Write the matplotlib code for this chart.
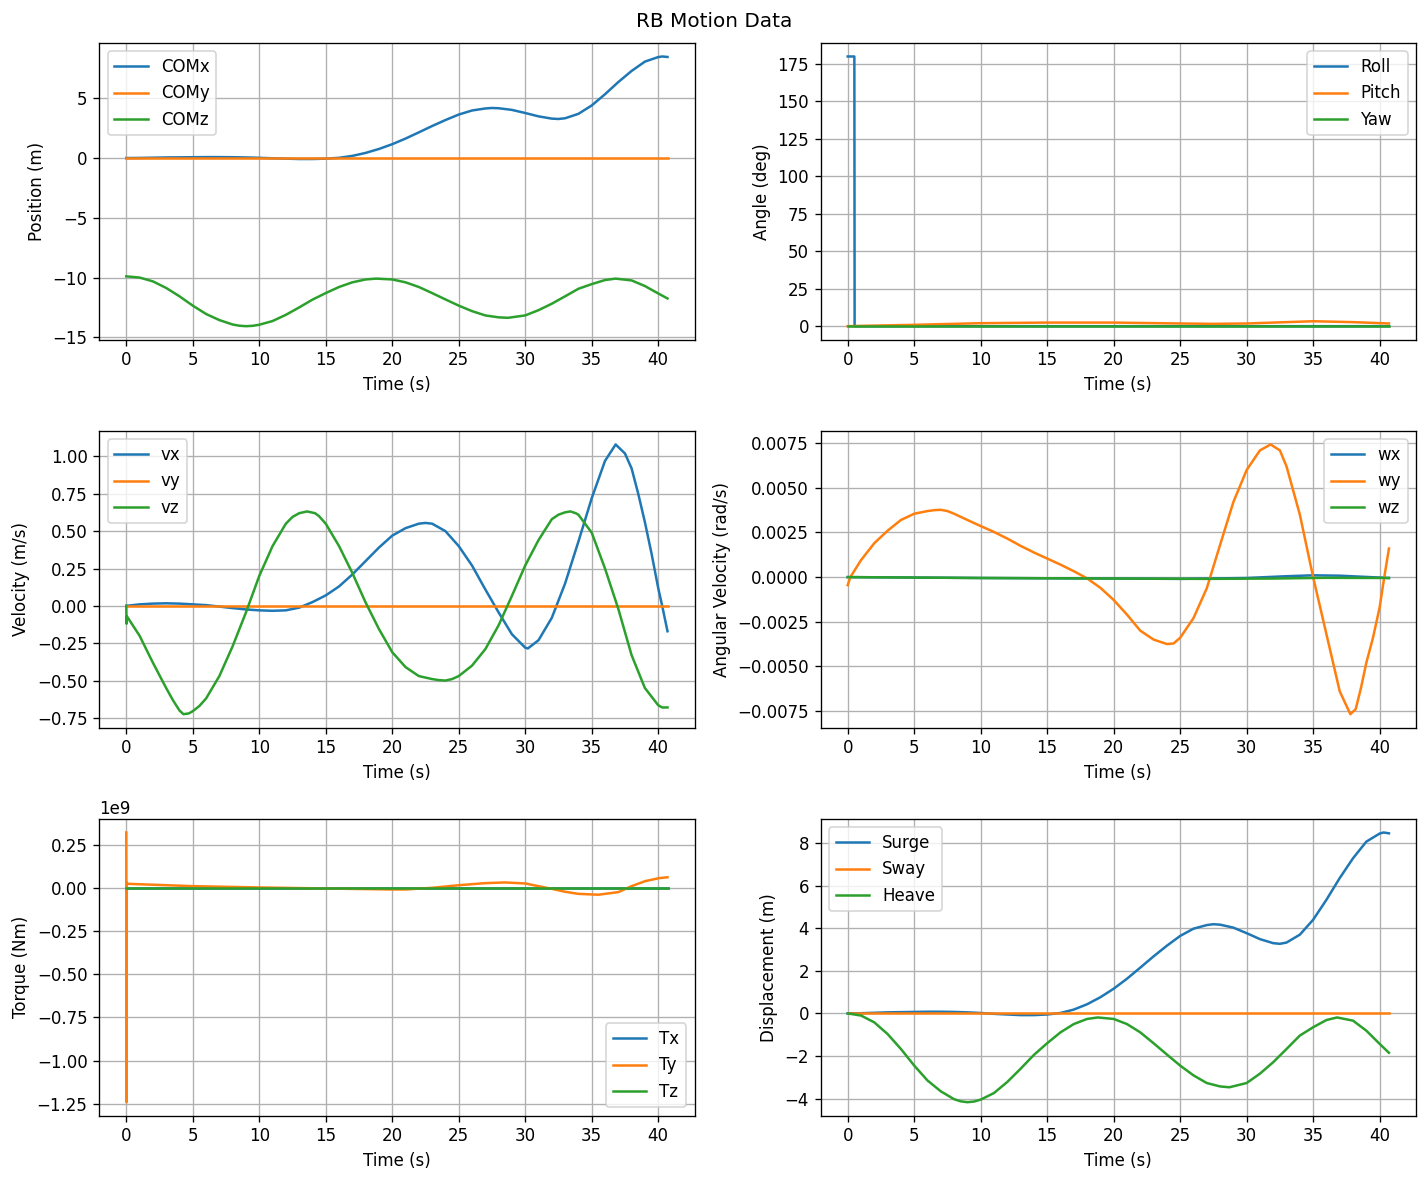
import numpy as np
import matplotlib
matplotlib.use("Agg")
import matplotlib.pyplot as plt

# --- data ---
# surge / COMx (m)
t_surge = [0, 1, 2, 3, 4, 5, 6, 7, 8, 9, 10, 11, 12, 13, 14, 15, 16, 17, 18, 19, 20,
           21, 22, 23, 24, 25, 26, 27, 27.5, 28, 29, 30, 31, 32, 32.5, 33, 34, 35, 36,
           37, 38, 39, 40, 40.3, 40.7]
surge = [0, 0.01, 0.03, 0.05, 0.06, 0.07, 0.08, 0.08, 0.07, 0.05, 0.02, -0.02, -0.05,
         -0.08, -0.08, -0.05, 0.02, 0.18, 0.43, 0.76, 1.16, 1.63, 2.15, 2.68, 3.18, 3.64,
         3.98, 4.15, 4.19, 4.17, 4.03, 3.77, 3.49, 3.3, 3.27, 3.33, 3.7, 4.4, 5.34, 6.36,
         7.29, 8.07, 8.45, 8.5, 8.46]

# heave (m); COMz = z0 + heave
t_heave = [0, 1, 2, 3, 4, 5, 6, 7, 8, 8.5, 9, 9.5, 10, 11, 12, 13, 14, 15, 16, 17, 18,
           18.8, 20, 21, 22, 23, 24, 25, 26, 27, 28, 28.7, 30, 31, 32, 33, 34, 35, 36,
           36.8, 38, 39, 40, 40.7]
heave = [0, -0.1, -0.42, -0.97, -1.67, -2.45, -3.15, -3.66, -4.03, -4.13, -4.17, -4.14,
         -4.05, -3.74, -3.22, -2.6, -1.95, -1.4, -0.89, -0.5, -0.26, -0.19, -0.26, -0.5,
         -0.89, -1.4, -1.93, -2.45, -2.91, -3.27, -3.43, -3.47, -3.27, -2.83, -2.29,
         -1.67, -1.04, -0.65, -0.31, -0.19, -0.34, -0.81, -1.43, -1.85]
com_z0 = -9.9

t_flat = [0, 40.7]
flat = [0, 0]

# roll / pitch / yaw (deg)
t_roll = [0, 0.5, 0.52, 40.7]
roll = [180, 180, 0, 0]
t_pitch = [0, 5, 10, 15, 20, 25, 27.5, 30, 33, 35, 38, 40.7]
pitch = [0, 0.9, 2.0, 2.4, 2.4, 1.8, 1.55, 1.8, 2.7, 3.3, 2.7, 1.8]

# linear velocity (m/s)
t_vx = [0, 1, 2, 3, 4, 5, 6, 7, 8, 9, 10, 11, 12, 13, 14, 15, 16, 17, 18, 19, 20, 21,
        22, 22.5, 23, 24, 25, 26, 27, 28, 29, 30, 30.2, 31, 32, 33, 34, 35, 36, 36.8,
        37.5, 38, 38.5, 39, 39.5, 40, 40.3, 40.7]
vx = [0, 0.01, 0.015, 0.017, 0.015, 0.01, 0.005, -0.005, -0.015, -0.024, -0.03, -0.033,
      -0.03, -0.012, 0.025, 0.07, 0.13, 0.21, 0.3, 0.39, 0.47, 0.52, 0.55, 0.555, 0.55,
      0.5, 0.4, 0.27, 0.11, -0.044, -0.19, -0.28, -0.285, -0.23, -0.08, 0.15, 0.43, 0.72,
      0.97, 1.08, 1.02, 0.92, 0.75, 0.56, 0.35, 0.12, 0.0, -0.17]
t_vz = [0, 0.02, 0.05, 1, 2, 3, 3.5, 4, 4.3, 4.7, 5, 5.5, 6, 7, 8, 9, 10, 11, 12, 12.5,
        13, 13.6, 14.2, 14.5, 15, 16, 17, 18, 19, 20, 21, 22, 23, 23.5, 24, 24.5, 25, 26,
        27, 28, 29, 30, 31, 32, 32.5, 33, 33.4, 33.8, 34, 35, 36, 37, 38, 39, 40, 40.3,
        40.7]
vz = [0, -0.12, -0.07, -0.2, -0.38, -0.55, -0.63, -0.7, -0.725, -0.72, -0.705, -0.67,
      -0.62, -0.47, -0.27, -0.044, 0.2, 0.4, 0.55, 0.595, 0.62, 0.632, 0.62, 0.6, 0.55,
      0.4, 0.22, 0.022, -0.155, -0.31, -0.41, -0.47, -0.49, -0.497, -0.5, -0.49, -0.47,
      -0.4, -0.29, -0.13, 0.067, 0.27, 0.44, 0.58, 0.61, 0.626, 0.632, 0.62, 0.61, 0.49,
      0.25, -0.02, -0.33, -0.55, -0.665, -0.68, -0.68]

# angular velocity (rad/s)
t_wy = [0, 0.2, 1, 2, 3, 4, 5, 6, 6.5, 7, 7.5, 8, 9, 10, 11, 12, 13, 14, 15, 16, 17, 18,
        19, 20, 21, 22, 23, 24, 24.5, 25, 26, 27, 28, 29, 30, 31, 31.8, 32.5, 33, 34, 35,
        36, 37, 37.8, 38.2, 38.6, 39, 39.5, 40, 40.35, 40.7]
wy = [-0.00045, 0.0, 0.00095, 0.0019, 0.0026, 0.0032, 0.00355, 0.0037, 0.00375, 0.00377,
      0.0037, 0.00355, 0.0032, 0.00286, 0.00253, 0.00216, 0.00175, 0.00138, 0.00104,
      0.0007, 0.00033, -0.00007, -0.0006, -0.00128, -0.0021, -0.003, -0.0035, -0.00375,
      -0.00372, -0.0034, -0.0023, -0.00063, 0.0018, 0.0042, 0.006, 0.0071, 0.00743,
      0.0071, 0.0062, 0.0035, 0.0, -0.0032, -0.0064, -0.00768, -0.0074, -0.0062,
      -0.0048, -0.0034, -0.0017, 0.0, 0.0016]
t_wx = [0, 10, 20, 25, 30, 33, 35, 37, 40.7]
wx = [0, -0.00005, -0.00008, -0.0001, -0.00005, 0.00005, 0.0001, 0.00008, -0.00005]
t_wz = [0, 10, 20, 27, 32, 36, 40.7]
wz = [0, -0.00005, -0.00008, -0.0001, -0.00008, -0.00004, -0.00005]

# torque, in units of 1e9 Nm
t_ty = [0, 0.02, 0.04, 0.1, 5, 10, 15, 20, 21, 23, 25, 27, 28.5, 30, 32, 33, 34, 35.5,
        37, 38, 39, 40, 40.7]
ty_g = [0.32, -1.24, 0.03, 0.023, 0.0096, 0.002, -0.004, -0.0096, -0.0096, 0.0, 0.015,
        0.027, 0.031, 0.025, -0.006, -0.023, -0.035, -0.04, -0.025, 0.0096, 0.038, 0.055,
        0.061]

fig, axs = plt.subplots(3, 2, figsize=(12, 10), dpi=120)
fig.suptitle('RB Motion Data')

ax = axs[0, 0]
ax.plot(t_surge, surge, label='COMx')
ax.plot(t_flat, flat, label='COMy')
ax.plot(t_heave, com_z0 + np.array(heave), label='COMz')
ax.set_xlabel('Time (s)')
ax.set_ylabel('Position (m)')
ax.legend(loc='upper left')
ax.grid(True)

ax = axs[0, 1]
ax.plot(t_roll, roll, label='Roll')
ax.plot(t_pitch, pitch, label='Pitch')
ax.plot(t_flat, flat, label='Yaw')
ax.set_xlabel('Time (s)')
ax.set_ylabel('Angle (deg)')
ax.legend(loc='upper right')
ax.grid(True)

ax = axs[1, 0]
ax.plot(t_vx, vx, label='vx')
ax.plot(t_flat, flat, label='vy')
ax.plot(t_vz, vz, label='vz')
ax.set_xlabel('Time (s)')
ax.set_ylabel('Velocity (m/s)')
ax.legend(loc='upper left')
ax.grid(True)

ax = axs[1, 1]
ax.plot(t_wx, wx, label='wx')
ax.plot(t_wy, wy, label='wy')
ax.plot(t_wz, wz, label='wz')
ax.set_xlabel('Time (s)')
ax.set_ylabel('Angular Velocity (rad/s)')
ax.legend(loc='upper right')
ax.grid(True)

ax = axs[2, 0]
ax.plot(t_flat, flat, label='Tx')
ax.plot(t_ty, np.array(ty_g) * 1e9, label='Ty')
ax.plot(t_flat, flat, label='Tz')
ax.set_xlabel('Time (s)')
ax.set_ylabel('Torque (Nm)')
ax.legend(loc='lower right')
ax.grid(True)

ax = axs[2, 1]
ax.plot(t_surge, surge, label='Surge')
ax.plot(t_flat, flat, label='Sway')
ax.plot(t_heave, heave, label='Heave')
ax.set_xlabel('Time (s)')
ax.set_ylabel('Displacement (m)')
ax.legend(loc='upper left')
ax.grid(True)

plt.tight_layout()
plt.savefig('out.png', dpi=120, bbox_inches='tight', pad_inches=0.1)
